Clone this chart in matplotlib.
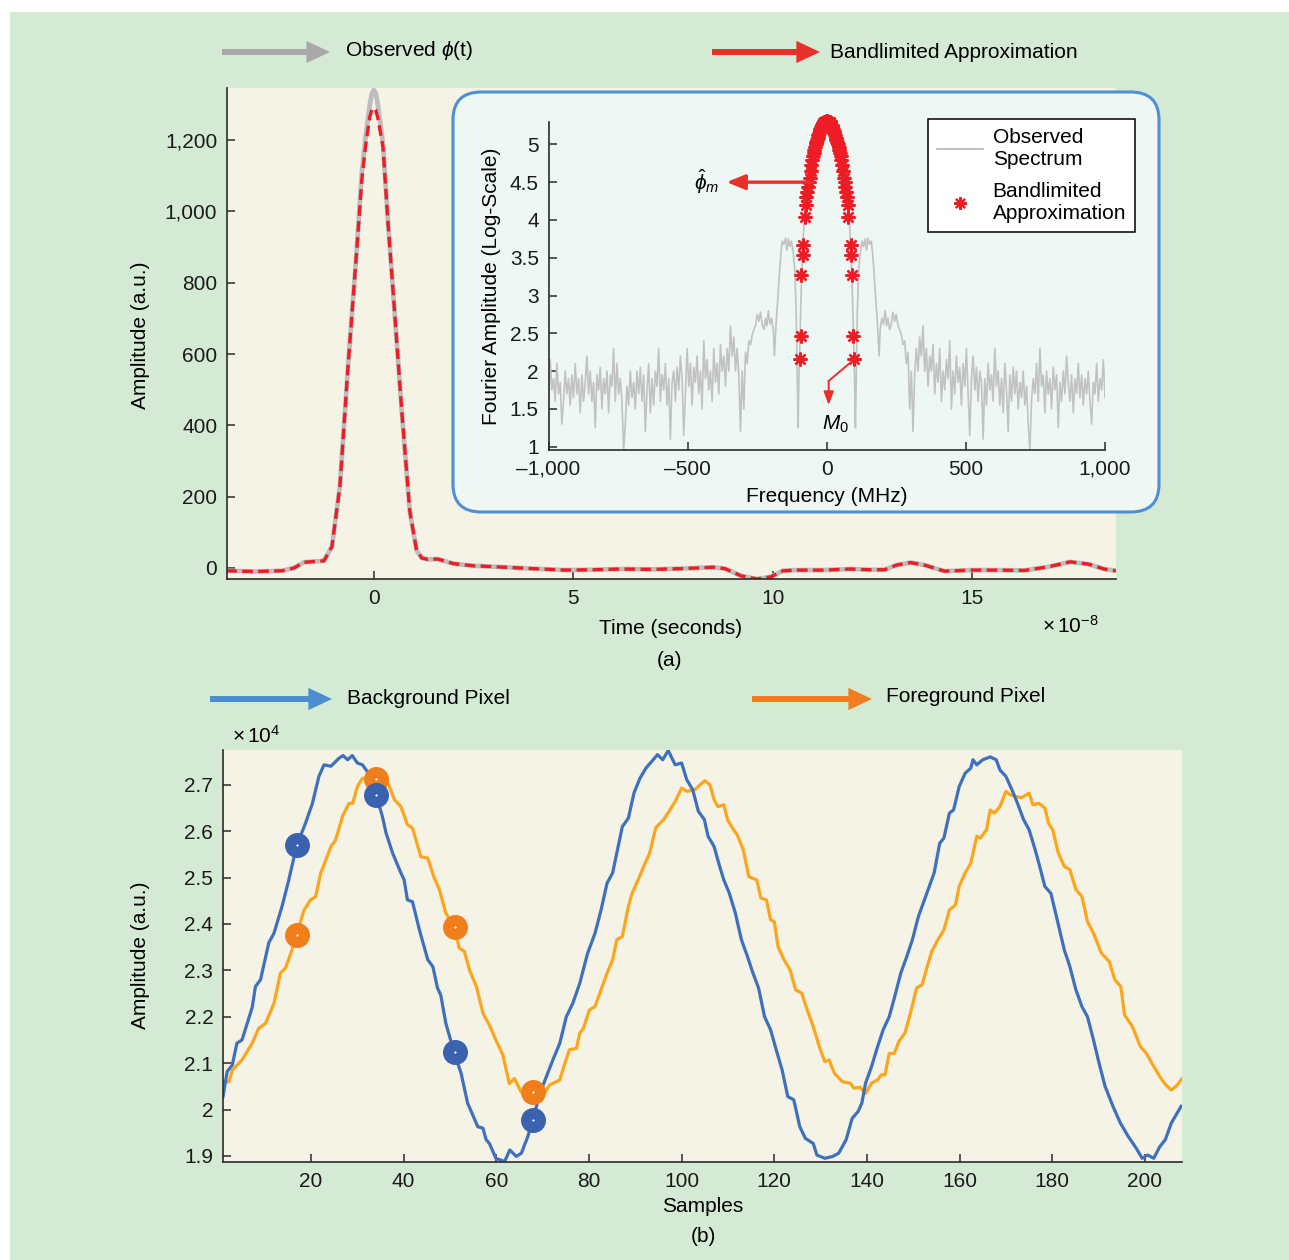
import numpy as np
import matplotlib
matplotlib.use('Agg')
import matplotlib.pyplot as plt
from matplotlib.patches import FancyBboxPatch, FancyArrowPatch, Rectangle
from matplotlib.lines import Line2D
from matplotlib.ticker import FuncFormatter

plt.rcParams['font.family'] = ['Liberation Sans', 'DejaVu Sans']
plt.rcParams['mathtext.fontset'] = 'custom'
plt.rcParams['mathtext.rm'] = 'Liberation Sans'
plt.rcParams['mathtext.it'] = 'Liberation Sans:italic'

# ---- (a) time-domain pulse, time in units of 1e-8 s
t_pulse = [-3.7, -3.0, -2.3, -2.0, -1.75, -1.5, -1.25, -1.05, -0.85, -0.65,
           -0.43, -0.3, -0.2, -0.1, -0.05, 0.0, 0.05, 0.1, 0.23, 0.35,
           0.48, 0.7, 0.9, 1.07, 1.2, 1.35, 1.6, 2.0, 2.5, 3.3,
           4.0, 4.8, 5.5, 6.2, 7.0, 7.7, 8.5, 8.8, 9.2, 9.6,
           9.95, 10.25, 10.6, 11.25, 11.95, 12.4, 12.8, 13.1, 13.45, 13.8,
           14.3, 15.0, 15.6, 16.3, 16.9, 17.45, 17.9, 18.3, 18.6]
observed = [-8, -10, -8, 0, 16, 18, 20, 60, 230, 560,
            890, 1110, 1215, 1300, 1330, 1340, 1330, 1300, 1190, 980,
            780, 440, 160, 50, 28, 24, 25, 12, 6, 2,
            -2, -6, -5, -3, -4, -2, 2, -2, -22, -31,
            -25, -8, -6, -6, -3, -5, -5, 8, 15, 8,
            -9, -6, -6, -7, 3, 17, 11, -3, -8]
bandlimited = [-8, -10, -8, 0, 16, 18, 20, 60, 230, 560,
               890, 1090, 1190, 1265, 1285, 1290, 1283, 1262, 1180, 975,
               780, 440, 160, 50, 28, 24, 25, 12, 6, 2,
               -2, -6, -5, -3, -4, -2, 2, -2, -22, -31,
               -25, -8, -6, -6, -3, -5, -5, 8, 15, 8,
               -9, -6, -6, -7, 3, 17, 11, -3, -8]

# ---- inset spectrum (symmetric, positive half)
freq_half = [0, 20, 40, 55, 65, 75, 82, 88, 93, 97, 100, 103,
             106, 110, 115, 120, 127, 133, 138, 143, 148, 154, 160, 165, 170,
             175, 180, 184, 188, 192, 198, 204, 210, 215, 220, 226, 232, 238,
             244, 250, 256, 262, 268, 274, 280, 286, 292, 298, 304, 310, 316,
             322, 328, 334, 340, 346, 352, 358, 364, 370, 376, 382, 388, 394,
             400, 406, 412, 418, 424, 430, 436, 442, 448, 454, 460, 466, 472,
             478, 484, 490, 496, 502, 508, 514, 520, 526, 532, 538, 544, 550,
             556, 562, 568, 574, 580, 586, 592, 598, 604, 610, 616, 622, 628,
             634, 640, 646, 652, 658, 664, 670, 676, 682, 688, 694, 700, 706,
             712, 718, 724, 730, 736, 742, 748, 754, 760, 766, 772, 778, 784,
             790, 796, 802, 808, 814, 820, 826, 832, 838, 844, 850, 856, 862,
             868, 874, 880, 886, 892, 898, 904, 910, 916, 922, 928, 934, 940,
             946, 952, 958, 964, 970, 976, 982, 988, 994, 1000]
spec_half = [5.3, 5.22, 5.0, 4.72, 4.48, 4.22, 3.95, 3.5, 2.9, 2.3, 1.9, 1.25,
             1.9, 2.8, 3.35, 3.55, 3.72, 3.65, 3.75, 3.6, 3.76, 3.68, 3.72, 3.55, 3.3,
             3.0, 2.75, 2.5, 2.2, 2.55, 2.7, 2.62, 2.8, 2.6, 2.7, 2.55, 2.62, 2.78,
             2.66, 2.75, 2.6, 2.55, 2.48, 2.35, 2.4, 2.1, 2.25, 1.5, 2.0, 1.2, 1.95,
             2.3, 2.0, 2.45, 2.2, 2.6, 2.0, 2.3, 1.8, 2.2, 2.0, 2.35, 1.7, 2.1,
             1.85, 2.3, 1.6, 2.0, 1.75, 2.15, 1.9, 2.4, 1.5, 2.0, 1.7, 2.2, 1.85,
             2.05, 1.55, 2.1, 1.8, 2.3, 1.7, 1.15, 1.9, 2.2, 1.75, 2.05, 1.6, 2.0,
             1.85, 1.1, 1.9, 1.55, 2.1, 1.75, 1.95, 1.6, 2.3, 1.8, 2.0, 1.55, 1.9,
             1.45, 2.1, 1.75, 1.2, 1.95, 1.6, 2.05, 1.7, 2.0, 1.5, 1.85, 1.65, 2.0,
             1.55, 1.8, 1.3, 0.95, 1.6, 1.9, 1.7, 2.1, 1.6, 2.3, 1.8, 1.95, 1.45,
             2.0, 1.7, 1.9, 1.5, 2.05, 1.75, 1.95, 1.25, 1.85, 1.6, 2.0, 1.7, 2.2,
             1.85, 1.6, 1.95, 1.45, 1.9, 1.7, 2.1, 1.65, 1.95, 1.55, 1.9, 1.7, 2.0,
             1.6, 1.3, 1.85, 1.7, 2.1, 1.6, 1.9, 1.75, 2.15, 1.65]
star_freq_half = [0, 2.5, 5, 7.5, 10, 12.5, 15, 17.5, 20, 22.5, 25, 27.5,
                  30, 32.5, 35, 37.5, 40, 42.5, 45, 47.5, 50, 52.5, 55, 58,
                  61, 64, 67, 70, 73, 76, 78, 86, 87, 92, 94, 97]
star_val_half = [5.31, 5.31, 5.30, 5.30, 5.29, 5.28, 5.26, 5.25, 5.23, 5.21, 5.18, 5.15,
                 5.12, 5.09, 5.06, 5.03, 5.0, 4.96, 4.92, 4.88, 4.84, 4.79, 4.73, 4.65,
                 4.55, 4.5, 4.43, 4.37, 4.31, 4.2, 4.04, 3.67, 3.54, 3.27, 2.46, 2.16]

# ---- (b) pixel time series (amplitude in units of 1e4)
bg_samples = [1, 1.9, 3, 4, 5.1, 7.3, 8, 9.1, 10.9, 12,
              13.8, 15.2, 16.9, 18.8, 20.3, 21.7, 22.8, 24.3, 26, 26.9,
              27.9, 28.9, 30, 31.1, 32.9, 34.1, 35.4, 36.2, 37.6, 39.4,
              40.1, 40.8, 41.9, 43.4, 45.2, 46.3, 47.3, 48, 49.1, 50.9,
              52.4, 53.8, 56, 57.1, 57.8, 58.5, 59.9, 61.8, 62.9, 64.3,
              65.4, 66.8, 67.9, 69.4, 70.8, 72.2, 73.7, 75.1, 76.5, 78,
              79.7, 81.3, 82.6, 83.9, 85.1, 86, 87.2, 88.5, 89.7, 91,
              92.3, 93.5, 94.8, 95.9, 97.1, 98.6, 100, 101.1, 102.4, 103.6,
              104.9, 105.7, 107, 108.2, 109.1, 110.3, 111.6, 112.9, 114.1, 115.4,
              116.6, 117.9, 119.2, 120.4, 121.7, 122.9, 124.2, 125.5, 126.7, 128.4,
              129.2, 130.9, 132.6, 133.9, 135.5, 136.8, 138.1, 138.9, 139.7, 141,
              142.3, 143.5, 144.8, 146, 147.3, 148.6, 149.8, 151.1, 151.9, 153.2,
              154.5, 155.7, 156.6, 157.8, 158.7, 159.9, 161.2, 162.4, 162.9, 163.7,
              165, 166.6, 167.9, 168.7, 170, 171.3, 172.5, 173.8, 175, 176.3,
              177.1, 178.4, 179.7, 180.9, 182.6, 183.8, 185.1, 186.4, 187.6, 188.9,
              190.1, 191.4, 193.1, 194.7, 196.4, 198.1, 199.4, 200.6, 201.9, 203.2,
              204.4, 205.7, 207.8]
bg_values = [2.028, 2.082, 2.096, 2.143, 2.15, 2.22, 2.265, 2.28, 2.36, 2.38,
             2.44, 2.495, 2.569, 2.617, 2.66, 2.718, 2.743, 2.74, 2.757, 2.763,
             2.754, 2.763, 2.747, 2.743, 2.718, 2.677, 2.632, 2.596, 2.553, 2.51,
             2.495, 2.452, 2.448, 2.387, 2.323, 2.308, 2.262, 2.247, 2.186, 2.123,
             2.078, 2.014, 1.963, 1.96, 1.935, 1.927, 1.895, 1.888, 1.913, 1.899,
             1.906, 1.942, 1.978, 2.035, 2.071, 2.107, 2.143, 2.2, 2.229, 2.272,
             2.337, 2.38, 2.43, 2.488, 2.51, 2.553, 2.61, 2.628, 2.682, 2.714,
             2.736, 2.75, 2.765, 2.754, 2.774, 2.743, 2.747, 2.711, 2.689, 2.643,
             2.625, 2.589, 2.567, 2.524, 2.495, 2.466, 2.423, 2.366, 2.333, 2.294,
             2.262, 2.2, 2.172, 2.129, 2.085, 2.028, 2.021, 1.963, 1.938, 1.927,
             1.902, 1.895, 1.899, 1.906, 1.935, 1.981, 1.996, 2.014, 2.057, 2.093,
             2.136, 2.172, 2.2, 2.244, 2.294, 2.33, 2.366, 2.416, 2.438, 2.474,
             2.51, 2.574, 2.585, 2.639, 2.646, 2.696, 2.725, 2.736, 2.754, 2.743,
             2.754, 2.76, 2.754, 2.732, 2.718, 2.689, 2.66, 2.625, 2.603, 2.56,
             2.531, 2.481, 2.466, 2.416, 2.344, 2.308, 2.258, 2.222, 2.2, 2.15,
             2.1, 2.05, 2.007, 1.971, 1.942, 1.917, 1.895, 1.902, 1.895, 1.92,
             1.935, 1.971, 2.007]
fg_samples = [1, 2.3, 3, 5.1, 7.3, 8.7, 10.2, 12, 13.4, 14.5,
              15.9, 16.9, 18.5, 19.9, 21, 22.1, 23.2, 24.3, 25.3, 26.8,
              28.2, 29, 30, 31.1, 34, 36.6, 38, 39.4, 40.8, 41.9,
              43.7, 45.2, 46.5, 47.7, 49.1, 50.9, 52, 53.1, 54.2, 55.7,
              57.1, 58.5, 59.9, 61.4, 62.8, 63.9, 65.3, 66.5, 67.9, 70.4,
              71.5, 73.7, 74.8, 75.8, 77.3, 78, 78.8, 80.1, 81.3, 82.6,
              83.9, 85.1, 86, 87.2, 88.5, 89.3, 90.6, 91.8, 93.1, 94.4,
              96.1, 97.3, 98.6, 100, 101.1, 102.8, 104, 105, 106.1, 107,
              107.8, 109.1, 109.9, 111.2, 112, 113.3, 114.5, 116.2, 117.1, 118.3,
              119.2, 120, 120.8, 122.1, 123.4, 124.6, 125.9, 127.1, 128.4, 129.7,
              130.9, 131.8, 133, 134.7, 136.4, 137.2, 138.5, 139.7, 141, 142.3,
              143.1, 143.9, 144.8, 145.9, 146.9, 148.2, 149.4, 150.7, 151.9, 153.2,
              154, 155.3, 156.6, 157.8, 159.1, 159.9, 161.2, 162.4, 163.7, 164.5,
              165.8, 166.6, 167.5, 168.7, 170, 170.8, 172.1, 173.3, 175, 175.8,
              177.1, 178.4, 179.2, 180.1, 181.3, 182.6, 183.8, 185.1, 186.4, 187.6,
              188.9, 190.6, 192.3, 193.5, 194.8, 195.6, 197.3, 199, 200.3, 201.5,
              203.2, 204.5, 205.7, 207, 208]
fg_values = [2.06, 2.06, 2.085, 2.107, 2.143, 2.175, 2.186, 2.229, 2.294, 2.305,
             2.344, 2.378, 2.43, 2.452, 2.459, 2.51, 2.538, 2.567, 2.581, 2.632,
             2.66, 2.66, 2.696, 2.714, 2.711, 2.704, 2.668, 2.653, 2.614, 2.607,
             2.545, 2.542, 2.502, 2.474, 2.423, 2.395, 2.348, 2.341, 2.301, 2.265,
             2.208, 2.182, 2.15, 2.118, 2.056, 2.067, 2.039, 2.028, 2.035, 2.035,
             2.053, 2.064, 2.1, 2.129, 2.132, 2.165, 2.175, 2.215, 2.222, 2.258,
             2.294, 2.323, 2.366, 2.373, 2.438, 2.466, 2.495, 2.524, 2.553, 2.607,
             2.625, 2.643, 2.664, 2.693, 2.686, 2.689, 2.7, 2.709, 2.7, 2.668,
             2.653, 2.657, 2.625, 2.603, 2.592, 2.56, 2.502, 2.495, 2.456, 2.452,
             2.409, 2.405, 2.351, 2.323, 2.301, 2.258, 2.251, 2.215, 2.179, 2.136,
             2.103, 2.107, 2.078, 2.06, 2.057, 2.046, 2.048, 2.035, 2.057, 2.064,
             2.075, 2.075, 2.121, 2.121, 2.147, 2.165, 2.208, 2.262, 2.269, 2.315,
             2.341, 2.366, 2.387, 2.43, 2.441, 2.481, 2.51, 2.531, 2.589, 2.585,
             2.603, 2.646, 2.639, 2.653, 2.686, 2.679, 2.675, 2.672, 2.682, 2.657,
             2.66, 2.65, 2.617, 2.603, 2.553, 2.524, 2.517, 2.474, 2.459, 2.405,
             2.38, 2.337, 2.319, 2.28, 2.265, 2.204, 2.179, 2.136, 2.121, 2.1,
             2.071, 2.053, 2.042, 2.053, 2.067]
marker_samples = [17, 34, 51, 68]
bg_marker_values = [2.571, 2.678, 2.124, 1.978]
fg_marker_values = [2.377, 2.713, 2.394, 2.038]

W, H = 1289, 1260
def fx(x):
    return x / W
def fy(y):
    return 1 - y / H

FS = 15
DARK = '#2b2b2b'
fig = plt.figure(figsize=(W / 100, H / 100), dpi=100, facecolor='white')
fig.add_artist(Rectangle((fx(10), 0), 1 - fx(10), fy(12), transform=fig.transFigure,
                         facecolor='#d5ead5', edgecolor='none', zorder=-10))


def style_axes(a):
    for s in ['top', 'right']:
        a.spines[s].set_visible(False)
    for s in ['left', 'bottom']:
        a.spines[s].set_color(DARK)
        a.spines[s].set_linewidth(1.2)
    a.tick_params(direction='in', length=6, width=1.1, color=DARK,
                  labelsize=FS, labelcolor='#1a1a1a', pad=7)


def legend_arrow(x0, x1, y, color):
    fig.add_artist(FancyArrowPatch(
        (fx(x0), fy(y)), (fx(x1), fy(y)), transform=fig.transFigure,
        arrowstyle='simple,head_length=17,head_width=16,tail_width=4.3',
        mutation_scale=1, color=color, shrinkA=0, shrinkB=0, lw=0))


# ---------------- panel (a)
ax = fig.add_axes([fx(227), fy(579), (1116 - 227) / W, (579 - 88) / H])
ax.set_facecolor('#f5f3e6')
style_axes(ax)
ax.plot(t_pulse, observed, color='#bdbdbd', lw=3.4, solid_joinstyle='round')
ax.plot(t_pulse, bandlimited, color='#ee1c25', lw=2.4, dashes=(3.2, 1.6))
ax.set_xlim(-3.68, 18.6)
ax.set_ylim(-31, 1346)
ax.set_xticks([0, 5, 10, 15])
ax.set_yticks(range(0, 1201, 200))
ax.yaxis.set_major_formatter(FuncFormatter(lambda v, p: f'{v:,.0f}'))

fig.text(fx(140), fy(335), 'Amplitude (a.u.)', rotation=90, ha='center', va='center', fontsize=FS)
fig.text(fx(671), fy(629), 'Time (seconds)', ha='center', va='center', fontsize=FS)
fig.text(fx(1070), fy(626), r'$\times\,10^{-8}$', ha='center', va='center', fontsize=FS)
fig.text(fx(670), fy(661), '(a)', ha='center', va='center', fontsize=FS)

legend_arrow(222, 330, 52, '#a9a9a9')
fig.text(fx(345), fy(50), r'Observed $\phi$(t)', ha='left', va='center', fontsize=FS)
legend_arrow(712, 820, 52, '#e8302a')
fig.text(fx(830), fy(53), 'Bandlimited Approximation', ha='left', va='center', fontsize=FS)

# inset frame
box = FancyBboxPatch((fx(453), fy(512)), (1159 - 453) / W, (512 - 92) / H,
                     boxstyle='round,pad=0,rounding_size=0.022', transform=fig.transFigure,
                     facecolor='#eef7f4', edgecolor='#4f8fd3', lw=2.2, zorder=1)
fig.add_artist(box)

ax_in = fig.add_axes([fx(548.5), fy(450), (1105 - 548.5) / W, (450 - 121.7) / H])
ax_in.set_zorder(2)
ax_in.patch.set_alpha(0)
style_axes(ax_in)
freq_full = np.concatenate([-np.array(freq_half[::-1]), np.array(freq_half[1:])])
spec_full = np.concatenate([np.array(spec_half[::-1]), np.array(spec_half[1:])])
star_f = np.concatenate([-np.array(star_freq_half[::-1]), np.array(star_freq_half[1:])])
star_v = np.concatenate([np.array(star_val_half[::-1]), np.array(star_val_half[1:])])
ax_in.plot(freq_full, spec_full, color='#c2c2c2', lw=1.2)
ax_in.plot(star_f, star_v, linestyle='none', marker=(8, 2, 0), markersize=10,
           markeredgewidth=1.7, color='#ee1c25', clip_on=False)
ax_in.set_xlim(-1000, 1000)
ax_in.set_ylim(0.956, 5.30)
ax_in.set_xticks([-1000, -500, 0, 500, 1000])
ax_in.set_yticks(np.arange(1, 5.01, 0.5))
ax_in.xaxis.set_major_formatter(FuncFormatter(lambda v, p: f'{v:,.0f}'.replace('-', '\u2013')))
ax_in.yaxis.set_major_formatter(FuncFormatter(lambda v, p: f'{v:g}'))
ax_in.set_xlabel('Frequency (MHz)', fontsize=FS, labelpad=6)
ax_in.set_ylabel('Fourier Amplitude (Log-Scale)', fontsize=FS, labelpad=6)

red = '#e8302a'
ax_in.annotate('', xy=(-360, 4.5), xytext=(-50, 4.5),
               arrowprops=dict(arrowstyle='-|>,head_length=1.1,head_width=0.45',
                               color=red, lw=2.4, shrinkA=0, shrinkB=0))
ax_in.text(-430, 4.5, r'$\hat{\phi}_m$', ha='center', va='center', fontsize=FS)
ax_in.plot([97, 7], [2.15, 1.87], color=red, lw=1.4)
ax_in.annotate('', xy=(7, 1.55), xytext=(7, 1.87),
               arrowprops=dict(arrowstyle='-|>,head_length=0.8,head_width=0.3',
                               color=red, lw=1.4, shrinkA=0, shrinkB=0))
ax_in.text(30, 1.29, r'$M_0$', ha='center', va='center', fontsize=FS)

handles = [Line2D([], [], color='#b5b5b5', lw=1.2),
           Line2D([], [], linestyle='none', marker=(8, 2, 0), markersize=9,
                  markeredgewidth=1.6, color='#ee1c25')]
leg = ax_in.legend(handles, ['Observed\nSpectrum', 'Bandlimited\nApproximation'],
                   loc='upper left', bbox_to_anchor=(fx(928), fy(119)),
                   bbox_transform=fig.transFigure, fontsize=FS, frameon=True,
                   fancybox=False, framealpha=1, edgecolor='black',
                   borderpad=0.45, labelspacing=0.6, handlelength=2.2,
                   handletextpad=0.45, borderaxespad=0)
leg.get_frame().set_linewidth(1.1)

# ---------------- panel (b)
bx = fig.add_axes([fx(223), fy(1162), (1182 - 223) / W, (1162 - 750) / H])
bx.set_facecolor('#f5f3e6')
style_axes(bx)
bx.plot(fg_samples, fg_values, color='#fba61c', lw=2.3)
bx.plot(bg_samples, bg_values, color='#3f70bd', lw=2.3)
bx.plot(marker_samples, fg_marker_values, linestyle='none', marker='o', markersize=10,
        markeredgewidth=8, markeredgecolor='#f07e1b', markerfacecolor='white')
bx.plot(marker_samples, bg_marker_values, linestyle='none', marker='o', markersize=10,
        markeredgewidth=8, markeredgecolor='#3a62b0', markerfacecolor='white')
bx.set_xlim(1, 208)
bx.set_ylim(1.887, 2.775)
bx.set_xticks(range(20, 201, 20))
bx.set_yticks(np.arange(1.9, 2.71, 0.1))
bx.yaxis.set_major_formatter(FuncFormatter(lambda v, p: f'{round(v, 1):g}'))

fig.text(fx(140), fy(955), 'Amplitude (a.u.)', rotation=90, ha='center', va='center', fontsize=FS)
fig.text(fx(703), fy(1206), 'Samples', ha='center', va='center', fontsize=FS)
fig.text(fx(703), fy(1236), '(b)', ha='center', va='center', fontsize=FS)
fig.text(fx(232), fy(736), r'$\times\,10^{4}$', ha='left', va='center', fontsize=FS)

legend_arrow(210, 332, 699, '#4a8ed0')
fig.text(fx(347), fy(699), 'Background Pixel', ha='left', va='center', fontsize=FS)
legend_arrow(752, 872, 699, '#f07e20')
fig.text(fx(886), fy(697), 'Foreground Pixel', ha='left', va='center', fontsize=FS)

fig.savefig('out.png', dpi=100, facecolor=fig.get_facecolor())
